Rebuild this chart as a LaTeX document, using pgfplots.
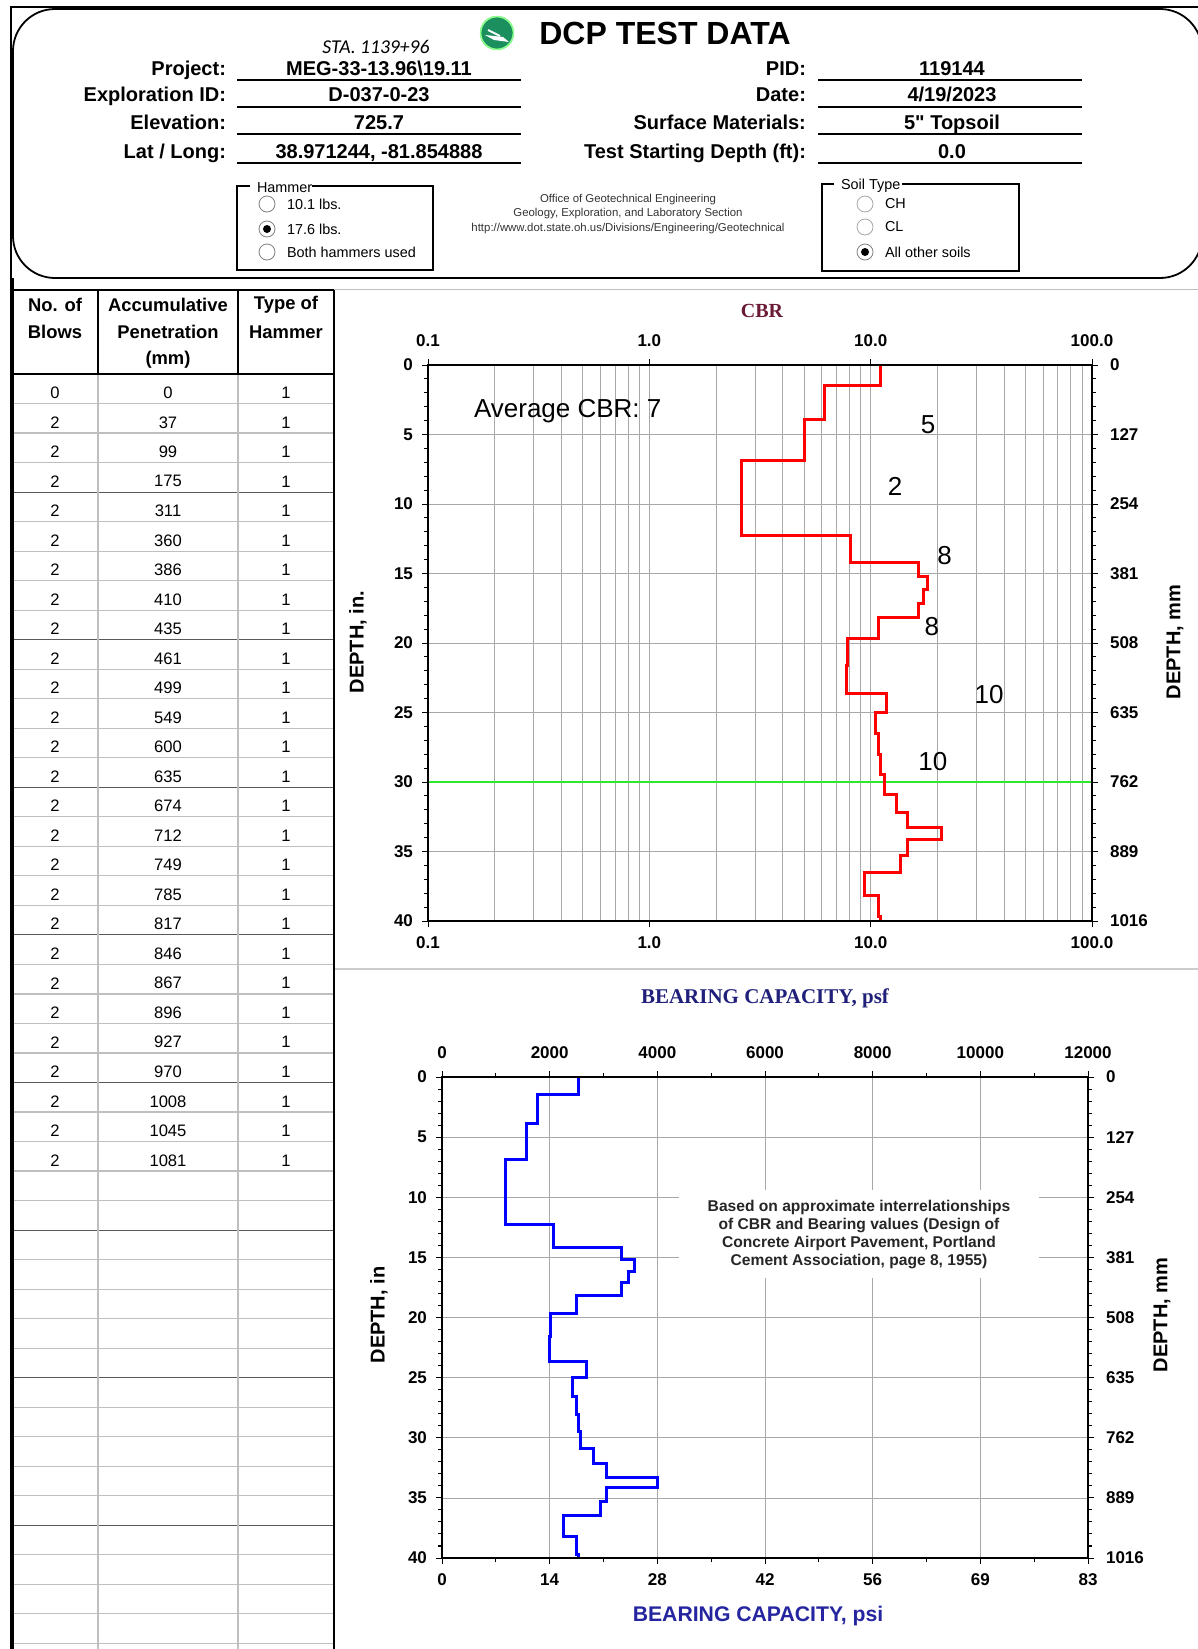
\documentclass[border=0pt]{standalone}
\usepackage{pgfplots}
\pgfplotsset{compat=1.18}
\usepackage{fontspec}
\setmainfont{Liberation Sans}
\newfontfamily\nomap{Liberation Sans}[Ligatures=ResetAll]
\newfontfamily\tnr{Liberation Serif}
\newfontfamily\cali{Carlito}
\definecolor{cbrtitle}{HTML}{6B1A35}
\definecolor{psftitle}{HTML}{20207A}
\definecolor{psititle}{HTML}{2525A0}
\definecolor{odot}{HTML}{1C8F5E}
\definecolor{gridgray}{HTML}{A8A8A8}
\definecolor{limegreen}{HTML}{2EE82E}

\pgfplotsset{
  dcp/.style={
    scale only axis, y dir=reverse, ymin=0, ymax=40,
    ytick={0,5,...,40}, minor y tick num=4,
    scaled x ticks=false, scaled y ticks=false,
    axis line style={line width=1.3pt, black},
    tick style={black, line width=0.5pt},
    major tick length=3pt, minor tick length=2pt, tick align=outside,
    tick label style={font=\bfseries\fontsize{8.5}{10}\selectfont},
    grid style={gridgray, line width=0.35pt},
    minor grid style={gridgray, line width=0.35pt},
  },
  lowleft/.style={xticklabel pos=lower, yticklabel pos=left,
    xticklabel style={yshift=-1.5pt}, yticklabel style={xshift=-1pt},
    yticklabels={0,5,10,15,20,25,30,35,40}},
  upright/.style={xticklabel pos=upper, yticklabel pos=right,
    xticklabel style={yshift=2.5pt}, yticklabel style={xshift=2.5pt},
    yticklabels={0,127,254,381,508,635,762,889,1016}},
}

\begin{document}
\begin{tikzpicture}
\useasboundingbox (0,0) rectangle (599pt,-824.5pt);
\clip (0,0) rectangle (599pt,-824.5pt);
\begin{scope}[x=0.5pt,y=-0.5pt]
  % frame
  \draw[line width=0.8pt] (11,1700) -- (11,7) -- (1250,7);
  \draw[line width=0.9pt, rounded corners=21pt] (13,9) rectangle (1202,278);
  % logo
  \fill[odot] (497,33) circle (8.5pt);
  \draw[green!45!white, line width=0.8pt] (497,33) circle (8.2pt);
  \fill[white] (485,35) -- (503,37) -- (509,42) -- (494,40) -- cycle;
  \draw[white, line width=0.9pt] (488,30) -- (500,36);
  % title
  \node[anchor=base, font=\bfseries\fontsize{16}{18}\selectfont] at (665,44) {DCP TEST DATA};
  \node[font=\cali\itshape\fontsize{9.8}{11}\selectfont] at (376,47) {STA. 1139+96};
  % fields
  \begin{scope}[every node/.style={font=\bfseries\fontsize{10}{12}\selectfont}]
    \node[anchor=base east] at (233,75) {Project:};
    \node[anchor=base east] at (233,101) {Exploration ID:};
    \node[anchor=base east] at (233,129) {Elevation:};
    \node[anchor=base east] at (233,158) {Lat / Long:};
    \node[anchor=base] at (379,75) {MEG-33-13.96\textbackslash 19.11};
    \node[anchor=base] at (379,101) {D-037-0-23};
    \node[anchor=base] at (379,129) {725.7};
    \node[anchor=base] at (379,158) {38.971244, -81.854888};
    \node[anchor=base east] at (813,75) {PID:};
    \node[anchor=base east] at (813,101) {Date:};
    \node[anchor=base east] at (813,129) {Surface Materials:};
    \node[anchor=base east] at (813,158) {Test Starting Depth (ft):};
    \node[anchor=base] at (952,75) {119144};
    \node[anchor=base] at (952,101) {4/19/2023};
    \node[anchor=base] at (952,129) {5{\nomap\bfseries "} Topsoil};
    \node[anchor=base] at (952,158) {0.0};
  \end{scope}
  \foreach \yy in {80,107,134,163} {
    \draw[line width=0.6pt] (237,\yy) -- (521,\yy);
    \draw[line width=0.6pt] (818,\yy) -- (1082,\yy);
  }
  % middle text
  \begin{scope}[every node/.style={font=\fontsize{5.7}{7}\selectfont, text=black!80}]
    \node at (628,200) {Office of Geotechnical Engineering};
    \node at (628,214) {Geology, Exploration, and Laboratory Section};
    \node at (628,229) {http://www.dot.state.oh.us/Divisions/Engineering/Geotechnical};
  \end{scope}
  % hammer box
  \draw[line width=0.6pt] (250,186) -- (237,186) -- (237,270) -- (433,270) -- (433,186) -- (312,186);
  \begin{scope}[every node/.style={font=\fontsize{7.2}{8}\selectfont}]
    \node[anchor=west] at (250,188) {Hammer};
    \draw[gray] (267,204) circle (4pt); \node[anchor=west] at (280,204) {10.1 lbs.};
    \draw[gray] (267,229) circle (4pt); \fill (267,229) circle (2pt); \node[anchor=west] at (280,229) {17.6 lbs.};
    \draw[gray] (267,252) circle (4pt); \node[anchor=west] at (280,252) {Both hammers used};
  \end{scope}
  % soil box
  \draw[line width=0.6pt] (834,184) -- (822,184) -- (822,271) -- (1019,271) -- (1019,184) -- (902,184);
  \begin{scope}[every node/.style={font=\fontsize{7.2}{8}\selectfont}]
    \node[anchor=west] at (834,186) {Soil Type};
    \draw[gray!70] (865,204) circle (4pt); \node[anchor=west] at (878,204) {CH};
    \draw[gray!70] (865,227) circle (4pt); \node[anchor=west] at (878,227) {CL};
    \draw[gray] (865,252) circle (4pt); \fill (865,252) circle (2pt); \node[anchor=west] at (878,252) {All other soils};
  \end{scope}
  % separators
  \draw[gray!50, line width=0.5pt] (334,289) -- (1200,289);
  \draw[gray!40, line width=0.8pt] (334,969) -- (1200,969);
  % table
  \foreach \k in {1,...,44} {
    \pgfmathtruncatemacro\m{mod(\k,5)}
    \ifnum\m=4
      \draw[black!65, line width=0.5pt] (13,{374+\k*29.52}) -- (334,{374+\k*29.52});
    \else
      \draw[black!25, line width=0.6pt] (13,{374+\k*29.52}) -- (334,{374+\k*29.52});
    \fi
  }
  \draw[black!25, line width=0.6pt] (98,374) -- (98,1660);
  \draw[black!25, line width=0.6pt] (238,374) -- (238,1660);
  \draw[line width=0.7pt] (13,290) -- (334,290);
  \draw[line width=0.8pt] (13,374) -- (334,374);
  \draw[line width=0.6pt] (98,290) -- (98,374);
  \draw[line width=0.6pt] (238,290) -- (238,374);
  \draw[line width=0.8pt] (334,290) -- (334,1660);
  \draw[line width=0.8pt] (13,278) -- (13,1660);
  \begin{scope}[every node/.style={font=\bfseries\fontsize{9.2}{11}\selectfont}]
    \node at (55,305) {No. of};
    \node at (55,332) {Blows};
    \node at (168,305) {Accumulative};
    \node at (168,332) {Penetration};
    \node at (168,360) {(mm)};
    \node at (286,305) {Type of};
    \node at (286,332) {Hammer};
  \end{scope}
  \foreach \b/\p [count=\i from 0] in {0/0,2/37,2/99,2/175,2/311,2/360,2/386,2/410,2/435,2/461,2/499,2/549,2/600,2/635,2/674,2/712,2/749,2/785,2/817,2/846,2/867,2/896,2/927,2/970,2/1008,2/1045,2/1081} {
    \node[font=\fontsize{8.3}{9}\selectfont] at (55,{392.8+\i*29.52}) {\b};
    \node[font=\fontsize{8.3}{9}\selectfont] at (168,{392.8+\i*29.52}) {\p};
    \node[font=\fontsize{8.3}{9}\selectfont] at (286,{392.8+\i*29.52}) {1};
  }
\end{scope}

% ---------------- CBR chart
\begin{axis}[dcp, lowleft, at={(214pt,-460.5pt)}, anchor=south west,
  width=332pt, height=278pt, xmode=log, xmin=0.1, xmax=100,
  xtick={0.1,1,10,100}, xticklabels={0.1,1.0,10.0,100.0},
  minor x tick style={draw=none},
  xmajorgrids, xminorgrids, ymajorgrids]
  \addplot[limegreen, line width=1pt] coordinates {(0.1,30) (100,30)};
  \addplot[red, line width=1.5pt] coordinates {
    (11.1,0) (11.1,1.457) (6.2,1.457) (6.2,3.898) (5.0,3.898) (5.0,6.890)
    (2.6,6.890) (2.6,12.244) (8.1,12.244) (8.1,14.173) (16.5,14.173) (16.5,15.197)
    (18.1,15.197) (18.1,16.142) (17.3,16.142) (17.3,17.126) (16.5,17.126) (16.5,18.150)
    (10.8,18.150) (10.8,19.646) (7.9,19.646) (7.9,21.614) (7.8,21.614) (7.8,23.622)
    (11.8,23.622) (11.8,25.0) (10.5,25.0) (10.5,26.535) (10.8,26.535) (10.8,28.031)
    (11.1,28.031) (11.1,29.488) (11.5,29.488) (11.5,30.906) (13.1,30.906) (13.1,32.165)
    (14.6,32.165) (14.6,33.307) (21.0,33.307) (21.0,34.134) (14.6,34.134) (14.6,35.276)
    (13.6,35.276) (13.6,36.496) (9.4,36.496) (9.4,38.189) (10.8,38.189) (10.8,39.685)
    (11.1,39.685) (11.1,40)};
  \node[anchor=west, font=\fontsize{13}{15}\selectfont] at (axis cs:0.15,3.3) {Average CBR: 7};
  \begin{scope}[every node/.style={font=\fontsize{13}{15}\selectfont}]
    \node at (axis cs:18.2,4.3) {5};
    \node at (axis cs:12.9,8.7) {2};
    \node at (axis cs:21.6,13.7) {8};
    \node at (axis cs:18.9,18.85) {8};
    \node at (axis cs:34.3,23.7) {10};
    \node at (axis cs:19.1,28.5) {10};
  \end{scope}
\end{axis}
\begin{axis}[dcp, upright, at={(214pt,-460.5pt)}, anchor=south west,
  width=332pt, height=278pt, xmode=log, xmin=0.1, xmax=100,
  minor x tick style={draw=none},
  xtick={0.1,1,10,100}, xticklabels={0.1,1.0,10.0,100.0}]
  \addplot[draw=none] coordinates {(1,1)};
\end{axis}

% ---------------- Bearing chart
\begin{axis}[dcp, lowleft, at={(221pt,-779pt)}, anchor=south west,
  width=323pt, height=240.5pt, xmin=0, xmax=12000,
  xtick={0,2000,...,12000}, xticklabels={0,14,28,42,56,69,83},
  minor x tick num=1, xmajorgrids, ymajorgrids]
  \addplot[blue, line width=1.5pt] coordinates {
    (2530,0) (2530,1.457) (1770,1.457) (1770,3.898) (1575,3.898) (1575,6.890)
    (1180,6.890) (1180,12.244) (2070,12.244) (2070,14.173) (3330,14.173) (3330,15.197)
    (3580,15.197) (3580,16.142) (3470,16.142) (3470,17.126) (3330,17.126) (3330,18.150)
    (2490,18.150) (2490,19.646) (2020,19.646) (2020,21.614) (2000,21.614) (2000,23.622)
    (2680,23.622) (2680,25.0) (2430,25.0) (2430,26.535) (2490,26.535) (2490,28.031)
    (2530,28.031) (2530,29.488) (2570,29.488) (2570,30.906) (2820,30.906) (2820,32.165)
    (3060,32.165) (3060,33.307) (4000,33.307) (4000,34.134) (3060,34.134) (3060,35.276)
    (2940,35.276) (2940,36.496) (2250,36.496) (2250,38.189) (2490,38.189) (2490,39.685)
    (2530,39.685) (2530,40)};
\end{axis}
\begin{axis}[dcp, upright, at={(221pt,-779pt)}, anchor=south west,
  width=323pt, height=240.5pt, xmin=0, xmax=12000,
  xtick={0,2000,...,12000}, xticklabels={0,2000,4000,6000,8000,10000,12000},
  minor x tick num=1]
  \addplot[draw=none] coordinates {(1000,1)};
\end{axis}

\begin{scope}[x=0.5pt,y=-0.5pt]
  \node[font=\tnr\bfseries\fontsize{10}{12}\selectfont, text=cbrtitle] at (762,311) {CBR};
  \node[font=\bfseries\fontsize{10}{12}\selectfont, rotate=90] at (358,642) {DEPTH, in.};
  \node[font=\bfseries\fontsize{10}{12}\selectfont, rotate=90] at (1175,642) {DEPTH, mm};
  \node[font=\tnr\bfseries\fontsize{10.5}{12}\selectfont, text=psftitle] at (765,998) {BEARING CAPACITY, psf};
  \node[font=\bfseries\fontsize{10.6}{12}\selectfont, text=psititle] at (758,1616) {BEARING CAPACITY, psi};
  \node[font=\bfseries\fontsize{10}{12}\selectfont, rotate=90] at (379,1315) {DEPTH, in};
  \node[font=\bfseries\fontsize{10}{12}\selectfont, rotate=90] at (1162,1315) {DEPTH, mm};
  \node[fill=white, minimum width=180pt, minimum height=44pt, align=center,
        font=\bfseries\fontsize{7.8}{9}\selectfont, text=black!85] at (859,1234)
    {Based on approximate interrelationships\\ of CBR and Bearing values (Design of\\ Concrete Airport Pavement, Portland\\ Cement Association, page 8, 1955)};
\end{scope}
\end{tikzpicture}
\end{document}
